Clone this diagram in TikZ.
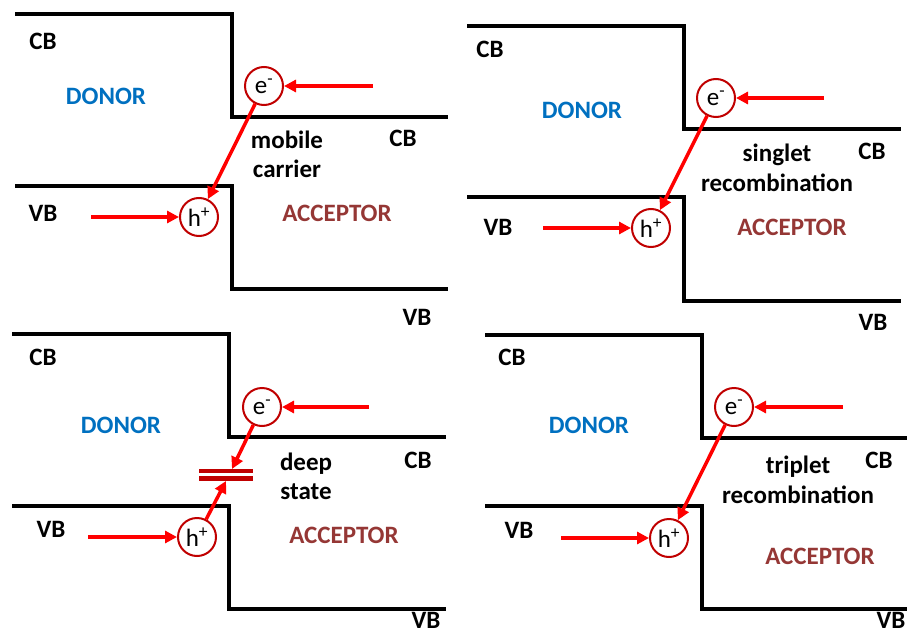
\documentclass[tikz,border=0pt]{standalone}
\usepackage{fontspec}
\setmainfont{Carlito}
\usetikzlibrary{arrows.meta}
\definecolor{donorblue}{HTML}{0070C0}
\definecolor{accred}{HTML}{953735}
\definecolor{circred}{HTML}{C00000}
\begin{document}
\begin{tikzpicture}[x=1pt,y=-1pt,
  band/.style={line width=4pt},
  lbl/.style={font=\fontsize{25}{30}\selectfont\bfseries, inner sep=0pt, anchor=base},
  donor/.style={lbl, text=donorblue},
  acc/.style={lbl, text=accred},
  carrier/.style={circle, draw=circred, line width=2pt, minimum size=38pt, inner sep=0pt, font=\fontsize{25}{30}\selectfont},
  flow/.style={draw=red, line width=3.5pt, -{Triangle[length=12pt,width=12pt]}},
  trap/.style={draw=circred, line width=4.5pt}
]
\useasboundingbox (0,0) rectangle (907,634);

% ---------------- Panel 1 ----------------
\draw[band] (15,14.5) -- (232,14.5) -- (232,117) -- (448,117);
\draw[band] (15,186) -- (232,186) -- (232,289) -- (448,289);
\node[lbl] (cbA1) at (43,50) {CB};
\node[donor] (donA) at (106,104) {DONOR};
\node[lbl] (mobA) at (287,148) {mobile};
\node[lbl] (carA) at (287,177) {carrier};
\node[lbl] (cbA2) at (403,146) {CB};
\node[lbl] (vbA1) at (43,221) {VB};
\node[acc] (accA) at (337,221) {ACCEPTOR};
\node[lbl] (vbA2) at (417,325) {VB};
\node[carrier] (eA) at (264,86) {e\textsuperscript{-}};
\node[carrier] (hA) at (199,217) {h\textsuperscript{+}};
\coordinate (eAin) at (373,86);
\coordinate (hAin) at (91,217);
\draw[flow] (eAin) -- (eA);
\draw[flow] (hAin) -- (hA);
\draw[flow] (eA) -- (hA);

% ---------------- Panel 2 ----------------
\draw[band] (467,26) -- (684,26) -- (684,129) -- (901,129);
\draw[band] (467,197) -- (684,197) -- (684,301) -- (901,301);
\node[lbl] (cbB1) at (490,57) {CB};
\node[donor] (donB) at (582,118) {DONOR};
\node[lbl] (sinB) at (777,161) {singlet};
\node[lbl] (recB) at (777,191) {recombination};
\node[lbl] (cbB2) at (872,159) {CB};
\node[lbl] (vbB1) at (498,235) {VB};
\node[acc] (accB) at (792,235) {ACCEPTOR};
\node[lbl] (vbB2) at (873,330) {VB};
\node[carrier] (eB) at (716,98) {e\textsuperscript{-}};
\node[carrier] (hB) at (651,228) {h\textsuperscript{+}};
\coordinate (eBin) at (824,98);
\coordinate (hBin) at (543,228);
\draw[flow] (eBin) -- (eB);
\draw[flow] (hBin) -- (hB);
\draw[flow] (eB) -- (hB);

% ---------------- Panel 3 ----------------
\draw[band] (12,334) -- (229,334) -- (229,437) -- (446,437);
\draw[band] (12,506) -- (229,506) -- (229,609) -- (446,609);
\node[lbl] (cbC1) at (43,365) {CB};
\node[donor] (donC) at (121,433) {DONOR};
\node[lbl] (depC) at (306,470) {deep};
\node[lbl] (staC) at (306,499) {state};
\node[lbl] (cbC2) at (418,468) {CB};
\node[lbl] (vbC1) at (51,537) {VB};
\node[acc] (accC) at (344,543) {ACCEPTOR};
\node[lbl] (vbC2) at (426,628) {VB};
\node[carrier] (eC) at (262,407) {e\textsuperscript{-}};
\node[carrier] (hC) at (197,537) {h\textsuperscript{+}};
\coordinate (eCin) at (369,407);
\coordinate (hCin) at (88,537);
\coordinate (trL1) at (199,471);
\coordinate (trR1) at (253,471);
\coordinate (trL2) at (199,478.5);
\coordinate (trR2) at (253,478.5);
\draw[trap] (trL1) -- (trR1);
\draw[trap] (trL2) -- (trR2);
\coordinate (trTop) at (232,469);
\coordinate (trBot) at (226,481);
\draw[flow] (eCin) -- (eC);
\draw[flow] (hCin) -- (hC);
\draw[flow] (eC) -- (trTop);
\draw[flow] (hC) -- (trBot);

% ---------------- Panel 4 ----------------
\draw[band] (485,335) -- (702,335) -- (702,438) -- (907,438);
\draw[band] (485,506) -- (702,506) -- (702,609) -- (907,609);
\node[lbl] (cbD1) at (512,365) {CB};
\node[donor] (donD) at (589,433) {DONOR};
\node[lbl] (triD) at (798,473) {triplet};
\node[lbl] (recD) at (798,503) {recombination};
\node[lbl] (cbD2) at (879,468) {CB};
\node[lbl] (vbD1) at (519,538) {VB};
\node[acc] (accD) at (820,564) {ACCEPTOR};
\node[lbl] (vbD2) at (891,628) {VB};
\node[carrier] (eD) at (734,407) {e\textsuperscript{-}};
\node[carrier] (hD) at (669,538) {h\textsuperscript{+}};
\coordinate (eDin) at (843,407);
\coordinate (hDin) at (561,538);
\draw[flow] (eDin) -- (eD);
\draw[flow] (hDin) -- (hD);
\draw[flow] (eD) -- (hD);
\end{tikzpicture}
\end{document}
